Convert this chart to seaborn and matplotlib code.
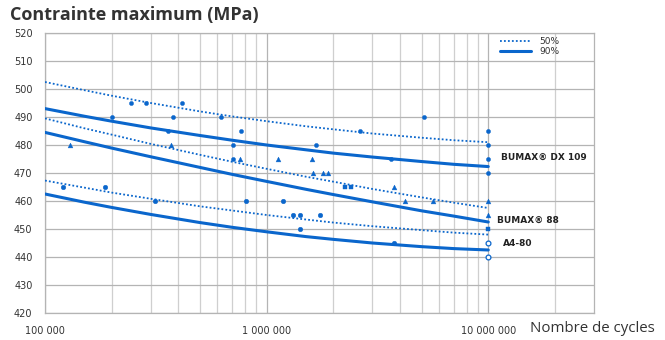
import numpy as np
import pandas as pd
import matplotlib
matplotlib.use("Agg")
import matplotlib.pyplot as plt
import seaborn as sns
from matplotlib.ticker import FixedLocator, NullFormatter, FixedFormatter

# ---------------- data ----------------
cycles = [1e5, 1.5e5, 2e5, 3e5, 5e5, 7e5, 1e6, 1.5e6, 2e6, 3e6, 5e6, 7e6, 1e7]

dx109_50 = [502.5, 499.6, 497.6, 495.0, 492.0, 490.2, 488.5, 486.7, 485.6, 484.1, 482.6, 481.7, 481.0]
dx109_90 = [493.0, 490.3, 488.5, 486.1, 483.4, 481.7, 480.0, 478.3, 477.1, 475.7, 474.1, 473.1, 472.3]
b88_50 = [489.5, 486.0, 483.7, 480.4, 476.5, 474.0, 471.5, 468.7, 466.9, 464.3, 461.3, 459.4, 457.5]
b88_90 = [484.5, 481.2, 478.9, 475.8, 472.0, 469.5, 467.0, 464.2, 462.3, 459.7, 456.5, 454.6, 452.5]
a480_50 = [467.3, 464.8, 463.0, 460.8, 458.1, 456.6, 455.0, 453.4, 452.3, 451.0, 449.6, 448.7, 448.0]
a480_90 = [462.5, 459.6, 457.7, 455.2, 452.3, 450.6, 449.0, 447.3, 446.3, 445.0, 443.7, 443.0, 442.5]

dot_n = [2.0e5, 2.45e5, 2.85e5, 4.15e5, 3.8e5, 3.6e5, 6.2e5, 7.7e5, 7.05e5, 7.05e5,
         1.67e6, 2.63e6, 5.15e6, 3.64e6, 1e7, 1e7, 1e7, 1e7]
dot_s = [490, 495, 495, 495, 490, 485, 490, 485, 480, 475,
         480, 485, 490, 475, 485, 480, 475, 470]
tri_n = [1.3e5, 3.7e5, 7.6e5, 1.12e6, 1.61e6, 1.62e6, 1.79e6, 1.89e6, 3.76e6,
         4.2e6, 5.64e6, 1e7, 1e7]
tri_s = [480, 480, 475, 475, 475, 470, 470, 470, 465, 460, 460, 460, 455]
sq_n = [2.25e6, 2.4e6, 1e7]
sq_s = [465, 465, 450]
circ_n = [1.2e5, 1.87e5, 3.13e5, 8.1e5, 1.18e6, 1.31e6, 1.41e6, 1.74e6, 1.41e6, 3.76e6]
circ_s = [465, 465, 460, 460, 460, 455, 455, 455, 450, 445]
open_n = [1e7, 1e7]
open_s = [445, 440]

yticks = list(range(420, 521, 10))
xtick_vals = [1e5, 1e6, 1e7]
xtick_labels = ["100 000", "1 000 000", "10 000 000"]
materials = ["BUMAX® DX 109", "BUMAX® 88", "A4-80"]

# ---------------- style ----------------
sns.set_style("white")
plt.rcParams["font.family"] = ["DejaVu Sans"]

BLUE = "#0a66cc"
GRID_MAJ = "#b4b4b4"
GRID_MIN = "#cfcfcf"
TXT = "#333333"

fig = plt.figure(figsize=(6.65, 3.40), dpi=100)
ax = fig.add_axes([45 / 665, 1 - 313 / 340, (594 - 45) / 665, (313 - 33) / 340])

curves = [(dx109_50, "50%"), (dx109_90, "90%"), (b88_50, "50%"),
          (b88_90, "90%"), (a480_50, "50%"), (a480_90, "90%")]
seen = set()
for vals, lvl in curves:
    df = pd.DataFrame({"N": cycles, "S": vals})
    lab = lvl if lvl not in seen else None
    seen.add(lvl)
    if lvl == "50%":
        sns.lineplot(data=df, x="N", y="S", ax=ax, color=BLUE, lw=1.3,
                     linestyle=(0, (1, 1.2)), label=lab, zorder=3)
    else:
        sns.lineplot(data=df, x="N", y="S", ax=ax, color=BLUE, lw=2.2,
                     label=lab, zorder=3)

sns.scatterplot(x=dot_n, y=dot_s, ax=ax, color=BLUE, marker="o", s=9,
                edgecolor=BLUE, linewidth=0.3, zorder=4)
sns.scatterplot(x=tri_n, y=tri_s, ax=ax, color=BLUE, marker="^", s=12,
                edgecolor=BLUE, linewidth=0.3, zorder=4)
sns.scatterplot(x=sq_n, y=sq_s, ax=ax, color=BLUE, marker="s", s=10,
                edgecolor=BLUE, linewidth=0.3, zorder=4)
sns.scatterplot(x=circ_n, y=circ_s, ax=ax, color=BLUE, marker="o", s=11,
                edgecolor=BLUE, linewidth=0.3, zorder=4)
sns.scatterplot(x=open_n, y=open_s, ax=ax, marker="o", s=12,
                facecolor="white", edgecolor=BLUE, linewidth=0.9, zorder=4)

ax.set_xscale("log")
ax.set_xlim(1e5, 3e7)
ax.set_ylim(420, 520)
ax.set_yticks(yticks)
ax.xaxis.set_major_locator(FixedLocator(xtick_vals))
ax.xaxis.set_major_formatter(FixedFormatter(xtick_labels))
minors = [m * 10 ** e for e in (5, 6) for m in range(2, 10)] + [2e7]
ax.xaxis.set_minor_locator(FixedLocator(minors))
ax.xaxis.set_minor_formatter(NullFormatter())
ax.grid(True, which="major", color=GRID_MAJ, lw=0.9, zorder=0)
ax.grid(True, which="minor", axis="x", color=GRID_MIN, lw=0.9, zorder=0)
ax.set_axisbelow(True)
ax.tick_params(axis="both", which="both", length=0, labelsize=7, colors=TXT)
ax.tick_params(axis="y", pad=9)
ax.tick_params(axis="x", pad=9)
for sp in ax.spines.values():
    sp.set_color(GRID_MAJ)
    sp.set_linewidth(0.9)
ax.set_xlabel("")
ax.set_ylabel("")

leg = ax.legend(loc="upper left", bbox_to_anchor=(500 / 665, 1 - 37 / 340),
                bbox_transform=fig.transFigure, frameon=False, fontsize=6.5,
                handlelength=3.4, labelspacing=0.1, handletextpad=1.0,
                borderpad=0, borderaxespad=0)
for t in leg.get_texts():
    t.set_color(TXT)

# material labels
lab_pos = [(501, 157), (497, 220), (503, 244)]
for name, (px, py) in zip(materials, lab_pos):
    fig.text(px / 665, 1 - py / 340, name, fontsize=6.5, fontweight="bold",
             color="#222222", ha="left", va="center")

fig.text(10 / 665, 1 - 15 / 340, "Contrainte maximum (MPa)", fontsize=13,
         fontweight="bold", color=TXT, ha="left", va="center",
         family=["Open Sans", "DejaVu Sans"])
fig.text(655 / 665, 1 - 328 / 340, "Nombre de cycles", fontsize=10.8,
         color=TXT, ha="right", va="center", family=["Open Sans", "DejaVu Sans"])

fig.savefig("out.png", dpi=100)
